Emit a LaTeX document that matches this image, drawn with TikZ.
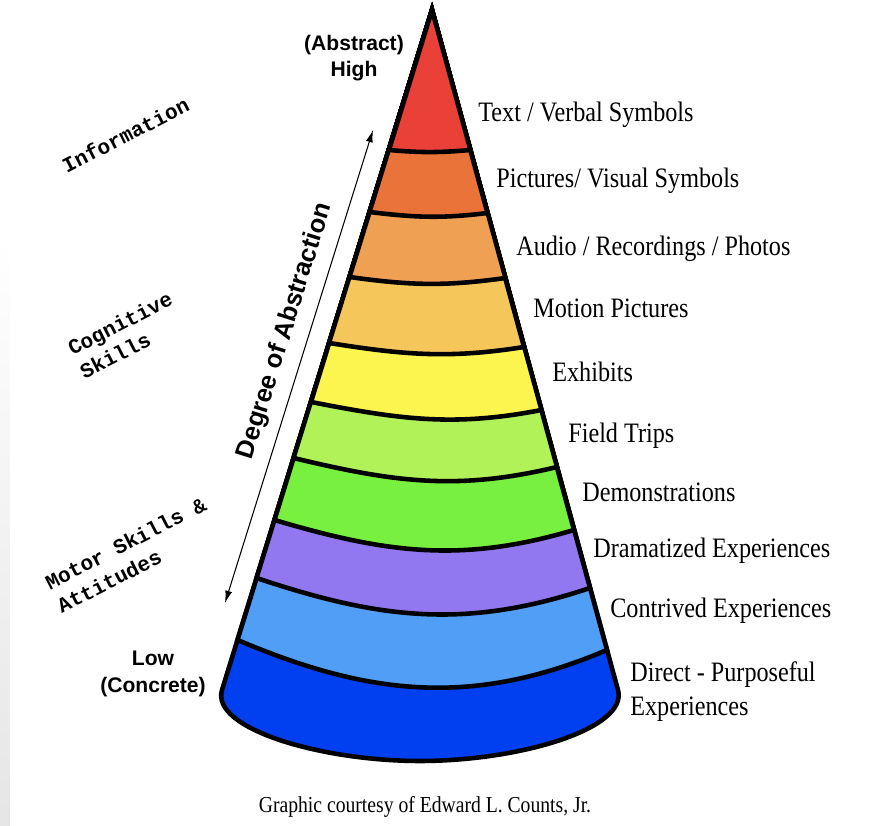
\documentclass[tikz,border=0pt]{standalone}
\usepackage{fontspec}
\usepackage{xcolor}
\usepackage{tikz}
\usetikzlibrary{calc}
\usetikzlibrary{arrows.meta}
\setmainfont{Liberation Serif}
\newfontfamily\itemfont[FakeStretch=0.86]{Liberation Serif}
\newfontfamily\headfont{Liberation Sans}
\newfontfamily\typefont{Liberation Mono}

\definecolor{cverbal}{RGB}{233,64,56}
\definecolor{cvisual}{RGB}{234,115,57}
\definecolor{caudio}{RGB}{240,160,82}
\definecolor{cmotion}{RGB}{245,198,90}
\definecolor{cexhibit}{RGB}{252,245,80}
\definecolor{ctrip}{RGB}{176,242,88}
\definecolor{cdemo}{RGB}{120,240,64}
\definecolor{cdrama}{RGB}{145,120,240}
\definecolor{ccontrived}{RGB}{80,158,245}
\definecolor{cdirect}{RGB}{0,64,240}

\tikzstyle{every path}=[line cap=round,line join=round]
\tikzstyle{band}=[draw=black,line width=2.6pt,line join=miter]
\tikzstyle{medium}=[anchor=base west,inner sep=0pt,font=\itemfont\fontsize{16}{19.3}\selectfont]
\tikzstyle{extreme}=[align=center,font=\headfont\bfseries\fontsize{12}{15}\selectfont]
\tikzstyle{skill}=[rotate=27,align=left,font=\typefont\bfseries\fontsize{12}{15}\selectfont]

\begin{document}
\begin{tikzpicture}
\useasboundingbox (0,0) rectangle (17.4,16.52);
\shade[top color=white,bottom color=black!10] (0,0) rectangle (0.2,11.8);

% corners of the cone
\coordinate (apex) at (8.64,16.32);
\coordinate (baseL) at (4.44,2.72);
\coordinate (baseR) at (12.36,2.72);
\coordinate (baseM) at (8.40,1.30);

% bands, painted from the base up
\filldraw[band,fill=cdirect] (apex) -- (baseL) .. controls +(253:0.8) and +(180:2) .. (baseM) .. controls +(0:2) and +(285:0.8) .. (baseR) -- cycle;
\filldraw[band,fill=ccontrived] (apex) -- (4.75,3.72) to[out=-23,in=203] (12.14,3.52) -- cycle;
\filldraw[band,fill=cdrama] (apex) -- (5.13,4.96) to[out=-18.5,in=198.5] (11.80,4.76) -- cycle;
\filldraw[band,fill=cdemo] (apex) -- (5.49,6.12) to[out=-16.5,in=196.5] (11.48,5.92) -- cycle;
\filldraw[band,fill=ctrip] (apex) -- (5.87,7.36) to[out=-13.5,in=193.5] (11.14,7.18) -- cycle;
\filldraw[band,fill=cexhibit] (apex) -- (6.22,8.48) to[out=-11,in=191] (10.83,8.32) -- cycle;
\filldraw[band,fill=cmotion] (apex) -- (6.58,9.66) to[out=-9,in=189] (10.48,9.58) -- cycle;
\filldraw[band,fill=caudio] (apex) -- (6.99,10.98) to[out=-8,in=188] (10.11,10.96) -- cycle;
\filldraw[band,fill=cvisual] (apex) -- (7.39,12.28) to[out=-7,in=187] (9.75,12.26) -- cycle;
\filldraw[band,fill=cverbal] (apex) -- (7.78,13.52) to[out=-5,in=185] (9.41,13.52) -- cycle;

% abstraction axis
\coordinate (low) at (4.50,4.46);
\coordinate (high) at (7.46,13.92);
\draw[{Latex[length=7pt,width=4pt]}-{Latex[length=7pt,width=4pt]},line width=0.6pt] (low) -- node[sloped,above=3pt,pos=0.56,font=\headfont\bfseries\fontsize{14.5}{16}\selectfont] (degree) {Degree of Abstraction} (high);

\node[extreme] (abstract) at (7.08,15.36) {(Abstract)\\High};
\node[extreme] (concrete) at (3.06,3.04) {Low\\(Concrete)};

\node[skill] (info) at (2.51,13.82) {Information};
\node[skill] (cognitive) at (2.52,9.82) {Cognitive\\Skills};
\node[skill] (motor) at (2.63,5.42) {Motor Skills \&\\Attitudes};

% media, top to bottom
\node[medium] (verbal) at (9.56,14.09) {Text / Verbal Symbols};
\node[medium] (visual) at (9.92,12.76) {Pictures/ Visual Symbols};
\node[medium] (audio) at (10.32,11.40) {Audio / Recordings / Photos};
\node[medium] (motion) at (10.66,10.16) {Motion Pictures};
\node[medium] (exhibit) at (11.04,8.88) {Exhibits};
\node[medium] (trip) at (11.36,7.66) {Field Trips};
\node[medium] (demo) at (11.64,6.48) {Demonstrations};
\node[medium] (drama) at (11.86,5.36) {Dramatized Experiences};
\node[medium] (contrived) at (12.20,4.16) {Contrived Experiences};
\node[medium,anchor=west,align=left] (direct) at (12.60,2.69) {Direct - Purposeful\\Experiences};

\node[anchor=base,font=\itemfont\fontsize{13}{15}\selectfont] (credit) at (8.50,0.26) {Graphic courtesy of Edward L. Counts, Jr.};
\end{tikzpicture}
\end{document}
